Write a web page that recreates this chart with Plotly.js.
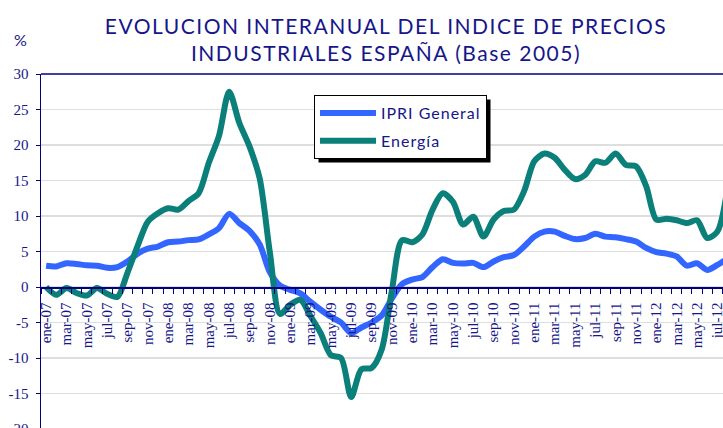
<!DOCTYPE html>
<html>
<head>
<meta charset="utf-8">
<script src="https://cdn.plot.ly/plotly-3.0.1.min.js"></script>
<style>
  html, body { margin: 0; padding: 0; overflow: hidden; background: #ffffff; }
  #chart { width: 780px; height: 440px; }
  .gtitle { letter-spacing: 1.5px; }
  .legendtext { letter-spacing: 1px; }
</style>
</head>
<body>
<div id="chart"></div>
<script>
// Month labels (ene-07 .. ago-12)
const months = [
  'ene-07','feb-07','mar-07','abr-07','may-07','jun-07','jul-07','ago-07','sep-07','oct-07','nov-07','dic-07',
  'ene-08','feb-08','mar-08','abr-08','may-08','jun-08','jul-08','ago-08','sep-08','oct-08','nov-08','dic-08',
  'ene-09','feb-09','mar-09','abr-09','may-09','jun-09','jul-09','ago-09','sep-09','oct-09','nov-09','dic-09',
  'ene-10','feb-10','mar-10','abr-10','may-10','jun-10','jul-10','ago-10','sep-10','oct-10','nov-10','dic-10',
  'ene-11','feb-11','mar-11','abr-11','may-11','jun-11','jul-11','ago-11','sep-11','oct-11','nov-11','dic-11',
  'ene-12','feb-12','mar-12','abr-12','may-12','jun-12','jul-12','ago-12'
];

// IPRI General (% interanual)
const ipriGeneral = [
  3.0, 2.9, 3.35, 3.25, 3.05, 3.0, 2.7, 2.8, 3.6, 4.7, 5.4, 5.7,
  6.3, 6.4, 6.6, 6.7, 7.4, 8.3, 10.3, 9.0, 7.9, 6.0, 2.1, 0.2,
  -0.4, -0.9, -2.1, -3.2, -4.2, -5.0, -6.5, -5.7, -5.0, -4.0, -1.6, 0.4,
  1.05, 1.4, 2.8, 3.9, 3.4, 3.3, 3.4, 2.8, 3.6, 4.2, 4.5, 5.7,
  7.1, 7.8, 7.8, 7.2, 6.75, 6.9, 7.5, 7.1, 7.0, 6.75, 6.4, 5.5,
  4.9, 4.7, 4.3, 3.0, 3.35, 2.4, 3.1, 4.0
];

// Energía (% interanual)
const energia = [
  0.0, -1.1, -0.15, -0.85, -1.2, -0.15, -0.95, -1.4, 2.0, 5.8, 9.2, 10.4,
  11.1, 10.9, 12.1, 13.2, 17.5, 21.3, 27.5, 23.1, 19.8, 15.3, 4.9, -3.8,
  -2.5, -1.8, -4.1, -6.5, -9.6, -10.0, -15.5, -11.6, -11.4, -8.8, -0.5, 6.6,
  6.3, 7.4, 10.9, 13.2, 12.0, 8.8, 9.9, 7.1, 9.5, 10.7, 10.9, 13.5,
  17.7, 18.8, 18.2, 16.5, 15.2, 15.8, 17.7, 17.5, 18.8, 17.2, 17.0, 14.2,
  9.5, 9.6, 9.4, 9.0, 9.4, 6.9, 7.8, 14.0
];

// Y axis ticks
const yTickVals = [-20, -15, -10, -5, 0, 5, 10, 15, 20, 25, 30];
const yTickText = ['-20', '-15', '-10', '-5', '0', '5', '10', '15', '20', '25', '30'];

const seriesNames = ['IPRI General', 'Energía'];

const xIdx = months.map((m, i) => i);
const xTickVals = xIdx.filter(i => i % 2 === 0);
const xTickText = xTickVals.map(i => months[i]);

const navy = '#000080';
const textNavy = '#16168a';

const traces = [
  {
    x: xIdx, y: ipriGeneral, name: seriesNames[0], type: 'scatter', mode: 'lines',
    line: { color: '#3366ff', width: 6, shape: 'spline', smoothing: 0.8 },
    legendgroup: 'a', hoverinfo: 'skip'
  },
  {
    x: xIdx, y: energia, name: seriesNames[1], type: 'scatter', mode: 'lines',
    line: { color: '#0b7f79', width: 6, shape: 'spline', smoothing: 0.8 },
    legendgroup: 'b', hoverinfo: 'skip'
  }
];

const layout = {
  width: 780, height: 440,
  margin: { l: 41, r: 0, t: 74, b: 11 },
  paper_bgcolor: '#ffffff', plot_bgcolor: '#ffffff',
  showlegend: true,
  title: {
    text: 'EVOLUCION INTERANUAL DEL INDICE DE PRECIOS<br>INDUSTRIALES ESPAÑA (Base 2005)',
    font: { family: 'Lato, "Open Sans", sans-serif', size: 21, color: textNavy },
    x: 386 / 780, xref: 'container', xanchor: 'center',
    y: 1 - 33.5 / 440, yref: 'container', yanchor: 'top'
  },
  xaxis: {
    type: 'linear', range: [-0.5, 72.16], anchor: 'free', position: 0.4,
    showline: true, linecolor: navy, linewidth: 1.5,
    tickmode: 'array', tickvals: xTickVals, ticktext: xTickText,
    tickangle: -90, ticks: '', ticklabelstandoff: 8,
    showgrid: false, zeroline: false,
    tickfont: { family: '"Liberation Serif", serif', size: 15, color: textNavy },
    minor: { tickmode: 'linear', tick0: -0.5, dtick: 1, ticks: 'outside', ticklen: 5, tickwidth: 1, tickcolor: navy, showgrid: false }
  },
  yaxis: {
    range: [-20, 30], tickmode: 'array', tickvals: yTickVals, ticktext: yTickText,
    showline: true, linecolor: navy, linewidth: 1.5,
    ticks: 'outside', ticklen: 4, tickcolor: navy, ticklabelstandoff: 4,
    showgrid: true, gridcolor: '#dedede', gridwidth: 1.5, zeroline: false,
    tickfont: { family: '"Liberation Serif", serif', size: 15, color: textNavy }
  },
  legend: {
    x: (314 - 41) / 739, y: (429 - 95) / 355, xanchor: 'left', yanchor: 'top',
    bgcolor: '#ffffff', bordercolor: '#000000', borderwidth: 1,
    font: { family: 'Lato, "Open Sans", sans-serif', size: 16, color: textNavy },
    itemwidth: 56, traceorder: 'grouped', tracegroupgap: 4
  },
  shapes: [
    { type: 'line', xref: 'paper', yref: 'paper', x0: 0, x1: 1, y0: 1, y1: 1, line: { color: navy, width: 1.5 } }
  ],
  annotations: [
    { text: '%', xref: 'paper', yref: 'paper', x: (20 - 41) / 739, y: (429 - 40) / 355,
      xanchor: 'center', yanchor: 'middle', showarrow: false,
      font: { family: 'Lato, "Open Sans", sans-serif', size: 16, color: textNavy } }
  ]
};

Plotly.newPlot('chart', traces, layout, { displayModeBar: false, staticPlot: true }).then(gd => {
  const bg = gd.querySelector('.legend .bg');
  if (!bg) return;
  const r = bg.getBoundingClientRect();
  const g = gd.getBoundingClientRect();
  const s = gd._fullLayout._size;
  const off = 4;
  const px = v => (v - g.left - s.l) / s.w;
  const py = v => 1 - (v - g.top - s.t) / s.h;
  const shadow = {
    type: 'rect', xref: 'paper', yref: 'paper', layer: 'above',
    x0: px(r.left + off), x1: px(r.right + off), y0: py(r.top + off), y1: py(r.bottom + off),
    fillcolor: '#000000', line: { width: 0 }
  };
  Plotly.relayout(gd, { shapes: layout.shapes.concat([shadow]) });
});
</script>
</body>
</html>
